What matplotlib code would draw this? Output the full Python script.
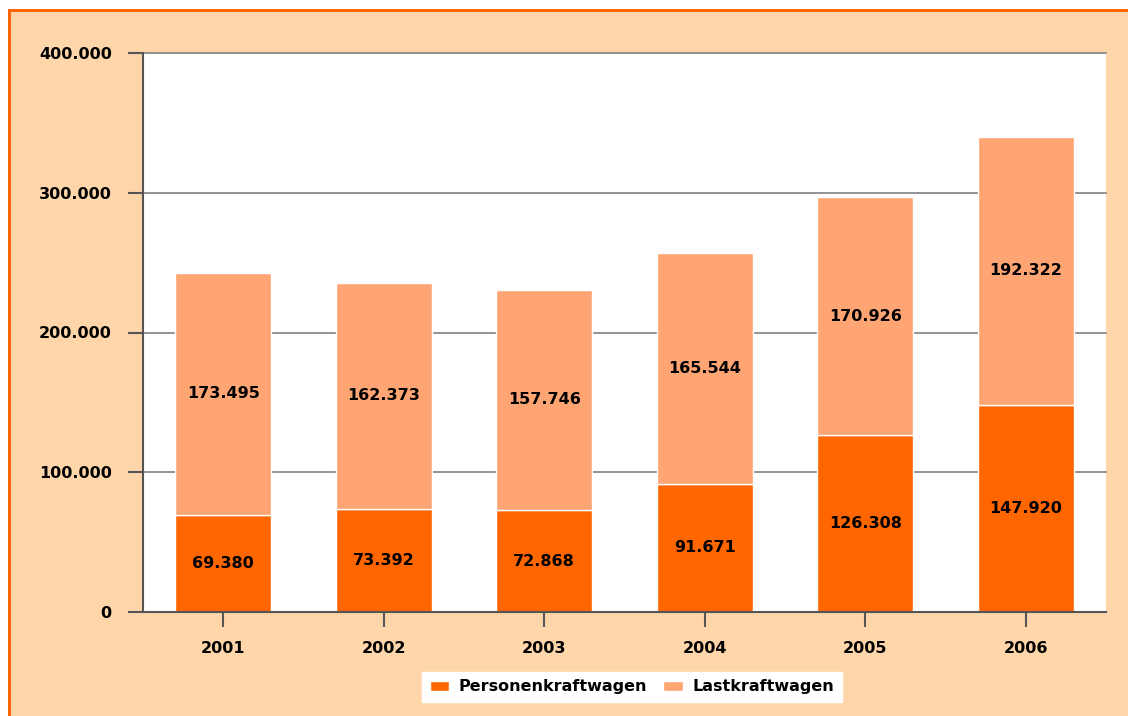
import matplotlib.pyplot as plt
from matplotlib.patches import Rectangle
import numpy as np

years = ['2001', '2002', '2003', '2004', '2005', '2006']
pkw = [69380, 73392, 72868, 91671, 126308, 147920]
lkw = [173495, 162373, 157746, 165544, 170926, 192322]
yticks = [0, 100000, 200000, 300000, 400000]

DARK = '#ff6600'
LIGHT = '#ffa574'
PEACH = '#fed6aa'


def de_fmt(v):
    # German thousands separator
    return '{:,}'.format(int(v)).replace(',', '.')


plt.rcParams['font.family'] = ['DejaVu Sans']
plt.rcParams['font.weight'] = 'bold'

W, H = 1128, 716
fig = plt.figure(figsize=(W / 100, H / 100), dpi=100)
fig.patch.set_facecolor(PEACH)
fig.patch.set_edgecolor('none')


def px_rect(x0, y0, w, h, color):
    # rectangle in figure pixels, y measured from the top
    fig.patches.append(Rectangle((x0 / W, 1 - (y0 + h) / H), w / W, h / H,
                                 transform=fig.transFigure, facecolor=color,
                                 edgecolor='none', linewidth=0, zorder=-1))


# white margin, then orange rule on top and left of the panel
px_rect(0, 0, W, 9, 'white')
px_rect(0, 0, 8, H, 'white')
px_rect(8, 9, W - 8, 3, DARK)
px_rect(8, 9, 3, H - 9, DARK)

ax = fig.add_axes([143 / W, (H - 612) / H, (1106 - 143) / W, (612 - 53) / H])
ax.set_facecolor('white')

x = np.arange(len(years))
b1 = ax.bar(x, pkw, width=0.6, color=DARK, edgecolor='white', linewidth=1, zorder=3,
            label='Personenkraftwagen')
b2 = ax.bar(x, lkw, bottom=pkw, width=0.6, color=LIGHT, edgecolor='white', linewidth=1,
            zorder=3, label='Lastkraftwagen')

for xi, p, l in zip(x, pkw, lkw):
    ax.text(xi, p / 2, de_fmt(p), ha='center', va='center', fontsize=11.5,
            fontweight='bold', zorder=4)
    ax.text(xi, p + l / 2, de_fmt(l), ha='center', va='center', fontsize=11.5,
            fontweight='bold', zorder=4)

ax.set_xlim(-0.5, len(years) - 0.5)
ax.set_ylim(0, 400000)
ax.set_xticks(x)
ax.set_xticklabels(years)
ax.set_yticks(yticks)
ax.set_yticklabels([de_fmt(v) for v in yticks])
ax.yaxis.grid(True, color='#808080', linewidth=1.2, zorder=1, clip_on=False)
ax.set_axisbelow(True)

for s in ['top', 'right']:
    ax.spines[s].set_visible(False)
for s in ['left', 'bottom']:
    ax.spines[s].set_color('#555555')
    ax.spines[s].set_linewidth(1.5)
    ax.spines[s].set_zorder(5)

ax.tick_params(axis='both', length=11, width=1.5, color='#555555', labelsize=11.5)
ax.tick_params(axis='y', pad=11.5)
ax.tick_params(axis='x', pad=10)
for lab in ax.get_xticklabels() + ax.get_yticklabels():
    lab.set_fontweight('bold')

leg = fig.legend(handles=[b1, b2], loc='center', bbox_to_anchor=(632 / W, (H - 687) / H),
                 ncol=2, frameon=True, fancybox=False, framealpha=1, edgecolor='white',
                 facecolor='white', handlelength=1.2, handleheight=0.6, handletextpad=0.6,
                 columnspacing=1.0, borderpad=0.5, prop={'size': 11.5, 'weight': 'bold'})

fig.savefig('out.png', dpi=100, facecolor=fig.get_facecolor())
